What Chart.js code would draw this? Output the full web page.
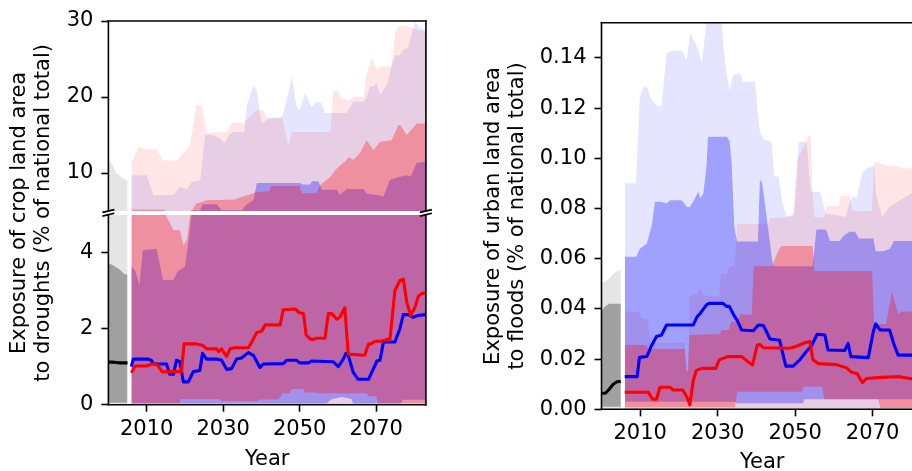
<!DOCTYPE html>
<html>
<head>
<meta charset="utf-8">
<script src="https://cdn.jsdelivr.net/npm/chart.js@4"></script>
<style>
  html, body { margin: 0; padding: 0; background: #fff; overflow: hidden; width: 912px; height: 471px; }
  canvas { position: absolute; top: 0; }
</style>
</head>
<body>
<canvas id="leftBottom" width="440" height="471" style="left:0"></canvas>
<canvas id="leftTop" width="440" height="220" style="left:0"></canvas>
<canvas id="right" width="480" height="471" style="left:460px"></canvas>
<script>
// axis texts and ticks
const xTicks = [2010, 2030, 2050, 2070];
const yTicksTL = [10, 20, 30];
const yTicksBL = [0, 2, 4];
const yTicksR = [0, 0.02, 0.04, 0.06, 0.08, 0.10, 0.12, 0.14];
const xTitle = 'Year';
const yTitleL = ['Exposure of crop land area', 'to droughts (% of national total)'];
const yTitleR = ['Exposure of urban land area', 'to floods (% of national total)'];

// historical period (grey)
const histYears = [2000, 2001, 2002, 2003, 2004, 2005];
const histZero = [0, 0, 0, 0, 0, 0];
const histMeanL = [1.12, 1.12, 1.11, 1.10, 1.10, 1.10];
const histOuterL = [11.6, 11.2, 10.0, 9.6, 9.2, 9.0];
const histInnerLowL = [0.05, 0.05, 0.05, 0.05, 0.05, 0.05];
const histInnerL = [3.72, 3.68, 3.62, 3.55, 3.45, 3.42];
const histMeanR = [0.0064, 0.0064, 0.0080, 0.0100, 0.0110, 0.0111];
const histOuterR = [0.050, 0.051, 0.052, 0.054, 0.055, 0.0555];
const histInnerLowR = [0.001, 0.001, 0.001, 0.001, 0.001, 0.001];
const histInnerR = [0.0396, 0.041, 0.042, 0.042, 0.042, 0.042];

// ---- droughts / crop land (left) : [year, value]
const redMeanL = [[2006,0.84],[2007,1.02],[2010,1.02],[2011.3,1.07],[2012.2,1.07],[2013,1.02],[2014,0.87],[2019.1,0.87],[2019.8,1.6],[2023,1.6],[2024,1.58],[2024.8,1.55],[2025.7,1.47],[2028.3,1.47],[2028.8,1.4],[2029.6,1.47],[2030.9,1.27],[2031.8,1.47],[2033,1.5],[2036.6,1.5],[2037.2,1.6],[2038.8,1.9],[2040,1.93],[2041,2.1],[2044.9,2.1],[2045.7,2.5],[2048.8,2.52],[2049.9,2.42],[2051,2.4],[2051.7,1.83],[2052.9,1.72],[2053.6,1.72],[2054.4,1.75],[2056.6,1.75],[2057.5,2.4],[2058.4,2.4],[2059.7,2.25],[2060.5,2.3],[2061.8,2.55],[2062.7,1.33],[2067,1.3],[2068,1.6],[2068.6,1.6],[2069.7,1.67],[2071.4,1.67],[2072.8,1.72],[2073.6,1.72],[2074.9,3.0],[2076.2,3.27],[2077.1,3.3],[2078,2.7],[2079,2.35],[2080.1,2.55],[2081,2.85],[2081.9,2.93],[2083,2.93]];
const blueMeanL = [[2006,1.0],[2006.5,1.2],[2010.4,1.2],[2011.2,1.17],[2011.9,1.07],[2015.2,1.07],[2016,0.8],[2017,0.8],[2017.8,1.17],[2018.7,1.13],[2019.6,0.6],[2020.9,0.6],[2022.2,0.87],[2023.9,0.9],[2024.6,1.35],[2025.7,1.2],[2028.3,1.2],[2029.6,1.17],[2030.9,0.93],[2032.2,0.95],[2033.5,1.2],[2034.8,1.23],[2036.6,1.37],[2037.9,1.3],[2039.6,0.98],[2040.5,1.07],[2045.7,1.08],[2046.6,1.17],[2049.2,1.17],[2050,1.1],[2052.3,1.1],[2053.1,1.15],[2058.8,1.13],[2060.1,1.0],[2061.4,1.2],[2062.1,1.35],[2062.7,1.3],[2064,0.85],[2065.3,0.67],[2068,0.67],[2069.3,0.95],[2070.2,1.15],[2071,1.17],[2071.9,1.65],[2074.9,1.65],[2076.2,2.0],[2077.1,2.37],[2078.4,2.37],[2079.7,2.3],[2081,2.35],[2083,2.37]];
const redMaxL = [[2006,11.3],[2007.8,13.4],[2010,13.1],[2012.6,13.1],[2014.3,11.7],[2018,11.6],[2019.1,12.4],[2021.3,13.5],[2023,19.0],[2024.4,18.8],[2025.7,15.3],[2031,15.4],[2032.3,16.6],[2035.5,16.6],[2037,17.5],[2038.8,18.3],[2040.5,18.2],[2041.5,17.2],[2045.5,17.3],[2047,13.5],[2048,15.4],[2058,15.4],[2058.8,20.8],[2060.1,20.8],[2060.8,19.8],[2063,19.6],[2064,20],[2066.7,20],[2067.5,23.1],[2068.8,25.1],[2069.7,24.2],[2070.2,23.6],[2071,24],[2074,24],[2075,28.4],[2075.8,29.3],[2078.4,29.3],[2080.2,28.9],[2083,28.6]];
const blueMaxL = [[2006,9.7],[2010,9.7],[2011.8,7.1],[2017,7.1],[2018.7,8.2],[2020.5,7.9],[2021.8,8.8],[2024,9.0],[2025.3,15.0],[2027.4,15.0],[2029,14.6],[2030.5,13.9],[2031.5,15.0],[2032.6,15.4],[2035.5,15.4],[2036.2,18.9],[2037.9,21.5],[2038.8,21.0],[2040,16.5],[2042,17.2],[2044.9,17.2],[2045.7,17.8],[2048,22.6],[2049.2,18.7],[2050,18.3],[2051.4,20.5],[2052.3,19.6],[2053.1,18.7],[2054.4,19.4],[2055.7,19.2],[2056.6,17.9],[2062.3,17.9],[2063.2,18.7],[2064,19.4],[2066.7,19.4],[2067.5,20],[2068.4,21.4],[2069.3,21.4],[2070.2,21.8],[2071,20.3],[2072.8,21.6],[2074,24],[2074.9,25.5],[2076.2,25.5],[2077,26.2],[2078.4,26.6],[2079.3,28.4],[2080.2,29.9],[2081,29.3],[2083,28.7]];
const redQ75L = [[2006,5.2],[2014.3,5.2],[2015.2,4.95],[2017,4.6],[2018.7,4.6],[2019.6,4.2],[2020.5,4.33],[2021.3,4.95],[2022,5.2],[2023,6.0],[2024.4,6.2],[2025.7,6.4],[2033,6.5],[2034.5,6.8],[2036.5,7.1],[2038.8,7.5],[2042,7.6],[2042.6,8.3],[2050,8.3],[2050.6,7.3],[2054.5,7.4],[2055.3,8.4],[2058,9.5],[2059.7,10.6],[2061.4,11.3],[2063,12.1],[2064,11.7],[2065.7,12.6],[2067.5,14.3],[2069.3,13.0],[2071,14.1],[2074,14.3],[2075.8,16.3],[2076.3,16.3],[2078,15.0],[2080.6,16.5],[2083,16.5]];
const blueQ75L = [[2006,3.63],[2007,3.54],[2008.1,3.15],[2009,4.07],[2012.6,4.1],[2014.3,3.28],[2017,3.28],[2018,3.5],[2020,3.63],[2021.2,4.5],[2021.8,5.05],[2024,5.05],[2024.6,5.9],[2028.3,5.9],[2029.6,5.1],[2034.9,5.1],[2036,5.8],[2037.9,6.4],[2038.8,8.7],[2050,8.7],[2050.8,8.5],[2052.7,8.5],[2053.2,8.9],[2054.9,8.9],[2055.8,7.8],[2059.7,7.8],[2060.5,7.1],[2062.3,7.9],[2066.7,7.9],[2067.5,7.3],[2070.2,7.1],[2071.9,6.9],[2073.6,9.1],[2076.2,9.5],[2078,9.7],[2079,9.5],[2080.6,11.3],[2083,11.5]];
const redQ25L = [[2006,0.04],[2018.5,0.04],[2019,0.15],[2029,0.15],[2029.5,0.1],[2038.8,0.1],[2039.5,0.14],[2044.5,0.14],[2045.5,0.3],[2047.3,0.3],[2048,0.41],[2050.8,0.41],[2051.5,0.32],[2054.5,0.32],[2055,0.3],[2067.5,0.3],[2068,0.22],[2070,0.22],[2070.5,0.04],[2083,0.04]];
const blueQ25L = [[2006,0.03],[2057,0.03],[2058.5,0.15],[2061,0.2],[2063.5,0.15],[2064,0.03],[2076.5,0.03],[2077,0.13],[2083,0.13]];
const redMinL = [[2006,0],[2083,0]];
const blueMinL = [[2006,0],[2083,0]];

// ---- floods / urban land (right)
const redMeanR = [[2006,0.0068],[2012.1,0.0068],[2013.2,0.0040],[2014.2,0.0040],[2015.1,0.0088],[2017.7,0.0088],[2018.5,0.0077],[2021,0.0077],[2022,0.005],[2022.8,0.0018],[2023.7,0.0115],[2024.5,0.0155],[2025.9,0.0163],[2029.5,0.0163],[2030.4,0.0197],[2031.4,0.0203],[2032.7,0.021],[2036.2,0.021],[2037.8,0.019],[2039,0.0176],[2040.2,0.0256],[2041,0.0258],[2041.8,0.0245],[2048.6,0.0243],[2050.5,0.0252],[2052.5,0.0265],[2053.8,0.027],[2054.6,0.0197],[2056,0.0182],[2060.7,0.0178],[2063.3,0.0165],[2064.5,0.0148],[2066,0.0143],[2067.4,0.0106],[2068.4,0.0123],[2072,0.0127],[2077,0.013],[2080,0.0122],[2083,0.012]];
const blueMeanR = [[2006,0.013],[2009.2,0.013],[2009.8,0.0207],[2011.7,0.021],[2012.8,0.025],[2014.2,0.029],[2015.5,0.0296],[2016.8,0.0336],[2023.7,0.0336],[2024.7,0.0369],[2025.4,0.038],[2027.1,0.0416],[2027.8,0.0422],[2031.4,0.0422],[2032.3,0.041],[2033,0.041],[2034.4,0.0369],[2035,0.0355],[2036.2,0.0316],[2039.2,0.0313],[2040.5,0.0336],[2041.8,0.0334],[2042.6,0.031],[2043.5,0.028],[2046,0.0275],[2047.6,0.0172],[2049.5,0.0172],[2051.2,0.0197],[2052.9,0.023],[2054.2,0.0252],[2055.7,0.0299],[2057.7,0.0296],[2058.5,0.0236],[2062.8,0.0234],[2063.7,0.0263],[2064.4,0.021],[2068.9,0.0206],[2070.2,0.031],[2070.8,0.034],[2072,0.0316],[2074.4,0.0316],[2075.5,0.026],[2076.6,0.0216],[2083,0.0216]];
const blueMaxR = [[2006,0.090],[2008.9,0.090],[2009.9,0.1245],[2011,0.1288],[2011.9,0.128],[2012.7,0.1238],[2014.6,0.1206],[2015.5,0.1206],[2016.8,0.1418],[2017.9,0.1428],[2020.7,0.1428],[2022,0.1389],[2022.9,0.1498],[2024.2,0.146],[2025,0.143],[2025.9,0.1378],[2027,0.153],[2027.5,0.16],[2030.8,0.16],[2031.4,0.146],[2032.3,0.1339],[2033.1,0.127],[2034,0.133],[2035.7,0.134],[2036.6,0.1305],[2039.6,0.1305],[2040.9,0.1106],[2042,0.1073],[2043.9,0.1066],[2044.7,0.0927],[2045.8,0.0927],[2046.6,0.0834],[2047.8,0.0767],[2048.6,0.077],[2049.8,0.078],[2050.5,0.095],[2050.9,0.1066],[2053,0.1066],[2053.8,0.09],[2054.2,0.0867],[2056.5,0.0867],[2057.4,0.0809],[2058,0.078],[2063,0.0767],[2064,0.082],[2065,0.085],[2065.8,0.084],[2067.3,0.094],[2068.5,0.096],[2070.4,0.097],[2071,0.085],[2072.5,0.0767],[2074.5,0.081],[2080,0.086],[2083,0.086]];
const redMaxR = [[2006,0.039],[2009.5,0.039],[2010.5,0.036],[2012,0.036],[2012.6,0.0265],[2021.5,0.0265],[2022,0.0157],[2022.4,0.0157],[2022.8,0.045],[2024.8,0.046],[2025.5,0.049],[2026.3,0.045],[2030.4,0.045],[2030.8,0.054],[2032.3,0.054],[2033,0.057],[2034.4,0.057],[2035,0.0738],[2043,0.0738],[2043.5,0.076],[2049.5,0.077],[2050.6,0.1],[2052.9,0.1066],[2053.3,0.109],[2054,0.109],[2054.4,0.09],[2055,0.0765],[2057.5,0.0765],[2058.2,0.081],[2061.3,0.081],[2061.8,0.085],[2064.2,0.085],[2064.8,0.079],[2069.8,0.079],[2070.4,0.0983],[2071.7,0.0983],[2073.7,0.097],[2076,0.097],[2078,0.096],[2080,0.096],[2083,0.096]];
const redQ75R = [[2006,0.0256],[2011.5,0.0256],[2012.2,0.024],[2021.5,0.024],[2022,0.015],[2022.3,0.015],[2022.7,0.0296],[2030.6,0.030],[2031,0.0316],[2033,0.0316],[2033.4,0.035],[2035,0.035],[2036,0.038],[2038.8,0.0376],[2039.3,0.057],[2044,0.057],[2045.3,0.062],[2046.4,0.065],[2054.5,0.065],[2055,0.055],[2069.9,0.055],[2070.4,0.034],[2073.5,0.034],[2075,0.047],[2076.6,0.038],[2077.5,0.039],[2083,0.039]];
const blueQ75R = [[2006,0.0608],[2009,0.0608],[2009.9,0.064],[2011.7,0.066],[2013,0.0734],[2013.8,0.0827],[2015.5,0.0827],[2016.8,0.082],[2017.7,0.0833],[2020.7,0.0833],[2022,0.0807],[2022.8,0.0805],[2024.1,0.084],[2025,0.0867],[2025.5,0.084],[2026.3,0.086],[2027.1,0.0967],[2027.5,0.1086],[2032.4,0.1086],[2033.1,0.1068],[2033.6,0.098],[2034.3,0.0727],[2035,0.0668],[2040.4,0.0668],[2040.9,0.0916],[2041.5,0.09],[2044.3,0.057],[2054.5,0.057],[2055.5,0.0716],[2058,0.0716],[2059,0.067],[2061.5,0.067],[2062.5,0.069],[2064,0.0707],[2065.5,0.0707],[2066.5,0.068],[2070.2,0.068],[2070.8,0.063],[2072.7,0.063],[2074.5,0.064],[2075.5,0.067],[2080,0.067],[2083,0.067]];
const redQ25R = [[2006,0.0008],[2034.5,0.0008],[2035,0.007],[2051.8,0.007],[2052.2,0.009],[2057,0.009],[2057.5,0.004],[2071.5,0.004],[2072,0.0005],[2083,0.0005]];
const blueQ25R = [[2006,0.003],[2034.5,0.003],[2035,0.0024],[2052,0.0024],[2052.5,0.004],[2083,0.004]];
const redMinR = [[2006,0],[2083,0]];
const blueMinR = [[2006,0],[2083,0]];

const FONT = "'DejaVu Sans', sans-serif";
Chart.defaults.font.family = FONT;
Chart.defaults.font.size = 21;
Chart.defaults.color = '#000';

const pts = arr => arr.map(([x, y]) => ({x, y}));
const hist = vals => vals.map((v, i) => [histYears[i], v]);

function band(lo, hi, color, order) {
  return [
    {data: pts(lo), borderColor: 'rgba(0,0,0,0)', borderWidth: 0, pointRadius: 0, fill: false, order},
    {data: pts(hi), borderColor: 'rgba(0,0,0,0)', borderWidth: 0, pointRadius: 0, fill: '-1', backgroundColor: color, order}
  ];
}
function line(arr, color, order) {
  return {data: pts(arr), borderColor: color, borderWidth: 3.1, pointRadius: 0, fill: false,
          borderJoinStyle: 'round', order};
}
function panel(h, s) {
  return [
    ...band(hist(histZero), hist(h.outer), 'rgba(0,0,0,0.1)', 20),
    ...band(hist(h.innerLow), hist(h.inner), 'rgba(0,0,0,0.3)', 19),
    line(hist(h.mean), '#000', 18),
    ...band(s.blueMin, s.blueMax, 'rgba(0,0,255,0.1)', 10),
    ...band(s.redMin, s.redMax, 'rgba(255,0,0,0.1)', 9),
    ...band(s.blueQ25, s.blueQ75, 'rgba(0,0,255,0.3)', 8),
    ...band(s.redQ25, s.redQ75, 'rgba(255,0,0,0.3)', 7),
    line(s.blueMean, 'rgb(0,0,255)', 2),
    line(s.redMean, 'rgb(255,0,0)', 1)
  ];
}

const tickGrid = {drawOnChartArea: false, tickLength: 7, tickWidth: 1.6, tickColor: '#000'};
// keep the plot box exactly where layout.padding puts it
const noPad = s => { s.paddingTop = 0; s.paddingBottom = 0; s.paddingLeft = 0; s.paddingRight = 0; };

function xAxis(show, height, titlePad) {
  return {
    type: 'linear', min: 2000, max: 2083, display: show,
    afterBuildTicks: s => { s.ticks = xTicks.map(v => ({value: v})); },
    afterFit: s => { s.height = height; noPad(s); },
    ticks: {autoSkip: false, maxRotation: 0, padding: 5, callback: v => String(v)},
    grid: tickGrid,
    border: {display: false},
    title: {display: true, text: xTitle, font: {size: 21, lineHeight: 1.1}, padding: {top: 0, bottom: titlePad}}
  };
}
function yAxis(min, max, ticks, fmt, width, title) {
  return {
    type: 'linear', min, max,
    afterBuildTicks: s => { s.ticks = ticks.map(v => ({value: v})); },
    afterFit: s => { s.width = width; noPad(s); },
    ticks: {autoSkip: false, padding: 8, callback: fmt},
    grid: tickGrid,
    border: {display: false},
    title: title || {display: false}
  };
}

// axes spines
const frame = {
  id: 'frame',
  afterDatasetsDraw(chart, args, opts) {
    const a = chart.chartArea, ctx = chart.ctx;
    ctx.save();
    ctx.strokeStyle = '#000';
    ctx.lineWidth = 1.6;
    ctx.lineCap = 'square';
    const seg = {top: [a.left, a.top, a.right, a.top], bottom: [a.left, a.bottom, a.right, a.bottom],
                 left: [a.left, a.top, a.left, a.bottom], right: [a.right, a.top, a.right, a.bottom]};
    opts.sides.forEach(k => {
      const [x1, y1, x2, y2] = seg[k];
      ctx.beginPath(); ctx.moveTo(x1, y1); ctx.lineTo(x2, y2); ctx.stroke();
    });
    ctx.restore();
  }
};
// the "//" marks of the broken axis
const breakMarks = {
  id: 'breakMarks',
  afterDraw(chart) {
    const a = chart.chartArea, ctx = chart.ctx;
    ctx.save();
    ctx.strokeStyle = '#000';
    ctx.lineWidth = 1.6;
    [a.bottom, a.bottom + 3.7].forEach(y => [a.left, a.right].forEach(x => {
      ctx.beginPath(); ctx.moveTo(x - 6, y + 1.4); ctx.lineTo(x + 6, y - 1.4); ctx.stroke();
    }));
    ctx.restore();
  }
};
// shared y label of the two left subplots
const leftTitle = {
  id: 'leftTitle',
  afterDraw(chart) {
    const ctx = chart.ctx;
    ctx.save();
    ctx.translate(31.7, 212.9);
    ctx.rotate(-Math.PI / 2);
    ctx.font = '21px ' + FONT;
    ctx.fillStyle = '#000';
    ctx.textAlign = 'center';
    ctx.textBaseline = 'middle';
    ctx.fillText(yTitleL[0], 0, -12);
    ctx.fillText(yTitleL[1], 0, 12);
    ctx.restore();
  }
};

function opts(scales, sides, padding) {
  return {
    responsive: false, animation: false, devicePixelRatio: 1, events: [],
    layout: {padding},
    plugins: {legend: {display: false}, tooltip: {enabled: false}, frame: {sides}},
    scales
  };
}

const leftSeries = {redMean: redMeanL, blueMean: blueMeanL, redMax: redMaxL, blueMax: blueMaxL,
  redQ75: redQ75L, blueQ75: blueQ75L, redQ25: redQ25L, blueQ25: blueQ25L, redMin: redMinL, blueMin: blueMinL};
const leftHist = {mean: histMeanL, outer: histOuterL, inner: histInnerL, innerLow: histInnerLowL};
const rightSeries = {redMean: redMeanR, blueMean: blueMeanR, redMax: redMaxR, blueMax: blueMaxR,
  redQ75: redQ75R, blueQ75: blueQ75R, redQ25: redQ25R, blueQ25: blueQ25R, redMin: redMinR, blueMin: blueMinR};
const rightHist = {mean: histMeanR, outer: histOuterR, inner: histInnerR, innerLow: histInnerLowR};

new Chart(document.getElementById('leftBottom'), {
  type: 'line',
  data: {datasets: panel(leftHist, leftSeries)},
  options: opts({
    x: xAxis(true, 66.3, 0),
    y: yAxis(0, 5, yTicksBL, v => String(v), 108.4)
  }, ['left', 'right', 'bottom'], {left: 0, top: 214.7, right: 14.1, bottom: 0}),
  plugins: [frame, leftTitle]
});

new Chart(document.getElementById('leftTop'), {
  type: 'line',
  data: {datasets: panel(leftHist, leftSeries)},
  options: opts({
    x: xAxis(false, 0, 0),
    y: yAxis(5, 30, yTicksTL, v => String(v), 108.4)
  }, ['left', 'right', 'top'], {left: 0, top: 21, right: 14.1, bottom: 9}),
  plugins: [frame, breakMarks]
});

new Chart(document.getElementById('right'), {
  type: 'line',
  data: {datasets: panel(rightHist, rightSeries)},
  options: opts({
    x: xAxis(true, 61.7, -3.5),
    y: yAxis(0, 0.154, yTicksR, v => v.toFixed(2), 141.5,
      {display: true, text: yTitleR, font: {size: 21, lineHeight: 1.157}, padding: {top: 21.5, bottom: 0}})
  }, ['left', 'right', 'top', 'bottom'], {left: 0, top: 22.7, right: 17.1, bottom: 0}),
  plugins: [frame]
});
</script>
</body>
</html>
